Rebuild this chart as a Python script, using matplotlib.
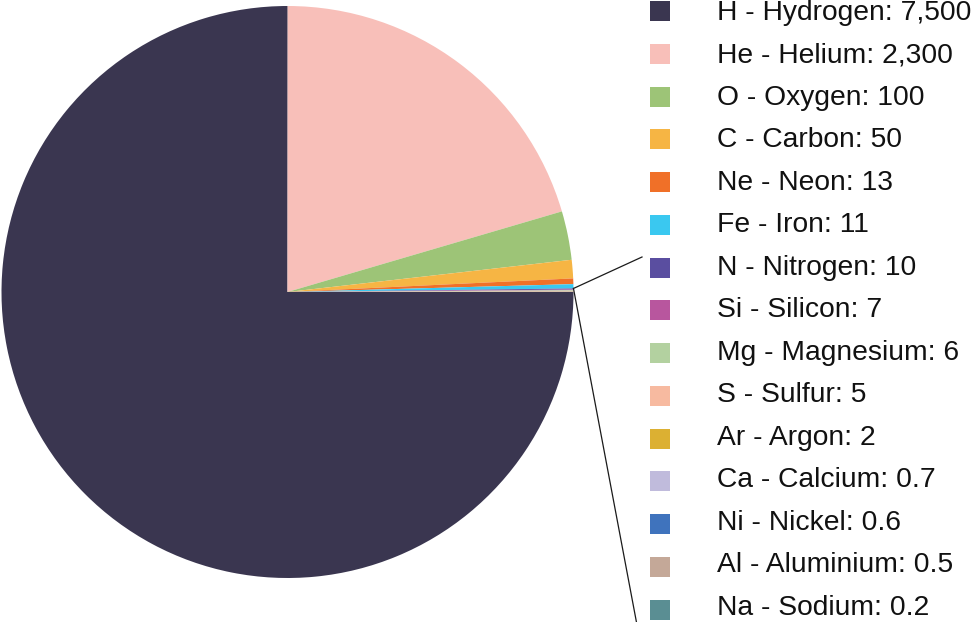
import matplotlib
matplotlib.use('Agg')
import matplotlib.pyplot as plt
import matplotlib.patches as patches
import numpy as np

plt.rcParams['font.family'] = ['Liberation Sans', 'DejaVu Sans']

# element names and the values shown in the legend
elements = ['H - Hydrogen', 'He - Helium', 'O - Oxygen', 'C - Carbon', 'Ne - Neon',
            'Fe - Iron', 'N - Nitrogen', 'Si - Silicon', 'Mg - Magnesium', 'S - Sulfur',
            'Ar - Argon', 'Ca - Calcium', 'Ni - Nickel', 'Al - Aluminium', 'Na - Sodium']
label_values = ['7,500', '2,300', '100', '50', '13', '11', '10', '7', '6', '5',
                '2', '0.7', '0.6', '0.5', '0.2']
# slice shares (%) as they appear in the drawn pie
slice_shares = [75.0, 20.44, 2.75, 1.04, 0.32, 0.24, 0.06, 0.04, 0.035, 0.03,
                0.015, 0.006, 0.005, 0.004, 0.002]
colors = ['#3a3650', '#f8bfb9', '#9dc477', '#f6b544', '#f07028', '#3ac8f0', '#5a4ea0',
          '#b8569e', '#b3d1a0', '#f7baa0', '#dcb032', '#c0bbdc', '#3f73bd', '#c4a898',
          '#5a8e93']

W, H = 976, 622
fig = plt.figure(figsize=(W / 100, H / 100), dpi=100)

# pie axes: centre (287.5, 292), radius 286 px
cx, cy, r = 287.5, 292, 286
ax = fig.add_axes([(cx - r) / W, (H - cy - r) / H, 2 * r / W, 2 * r / H])
wedges, _ = ax.pie(slice_shares, colors=colors, startangle=0, counterclock=False,
                   radius=1, wedgeprops=dict(linewidth=0, antialiased=True))
ax.set_xlim(-1, 1)
ax.set_ylim(-1, 1)
ax.set_aspect('equal')
ax.axis('off')

# connector lines from the small-slice group (N .. Na) towards the right
grp_top = max(max(w.theta1, w.theta2) for w in wedges[6:])
a = np.deg2rad(grp_top)
sx, sy = np.cos(a), np.sin(a)
end_up = ((642 - cx) / r, (cy - 257) / r)
end_dn = ((637 - cx) / r, (cy - 625) / r)
for ex, ey in (end_up, end_dn):
    ax.plot([sx, ex], [sy, ey], color='#1a1a1a', lw=0.9, clip_on=False)

# legend
for i, (name, val, col) in enumerate(zip(elements, label_values, colors)):
    yc = 11 + 42.75 * i
    yb = 19.8 + 42.5 * i
    fig.patches.append(patches.Rectangle((650 / W, (H - yc - 10) / H), 20 / W, 20 / H,
                                         transform=fig.transFigure, facecolor=col,
                                         edgecolor='none'))
    fig.text(717 / W, (H - yb) / H, f'{name}: {val}', fontsize=20.3,
             color='#111111', va='baseline', ha='left')

fig.savefig('out.png', dpi=100)
